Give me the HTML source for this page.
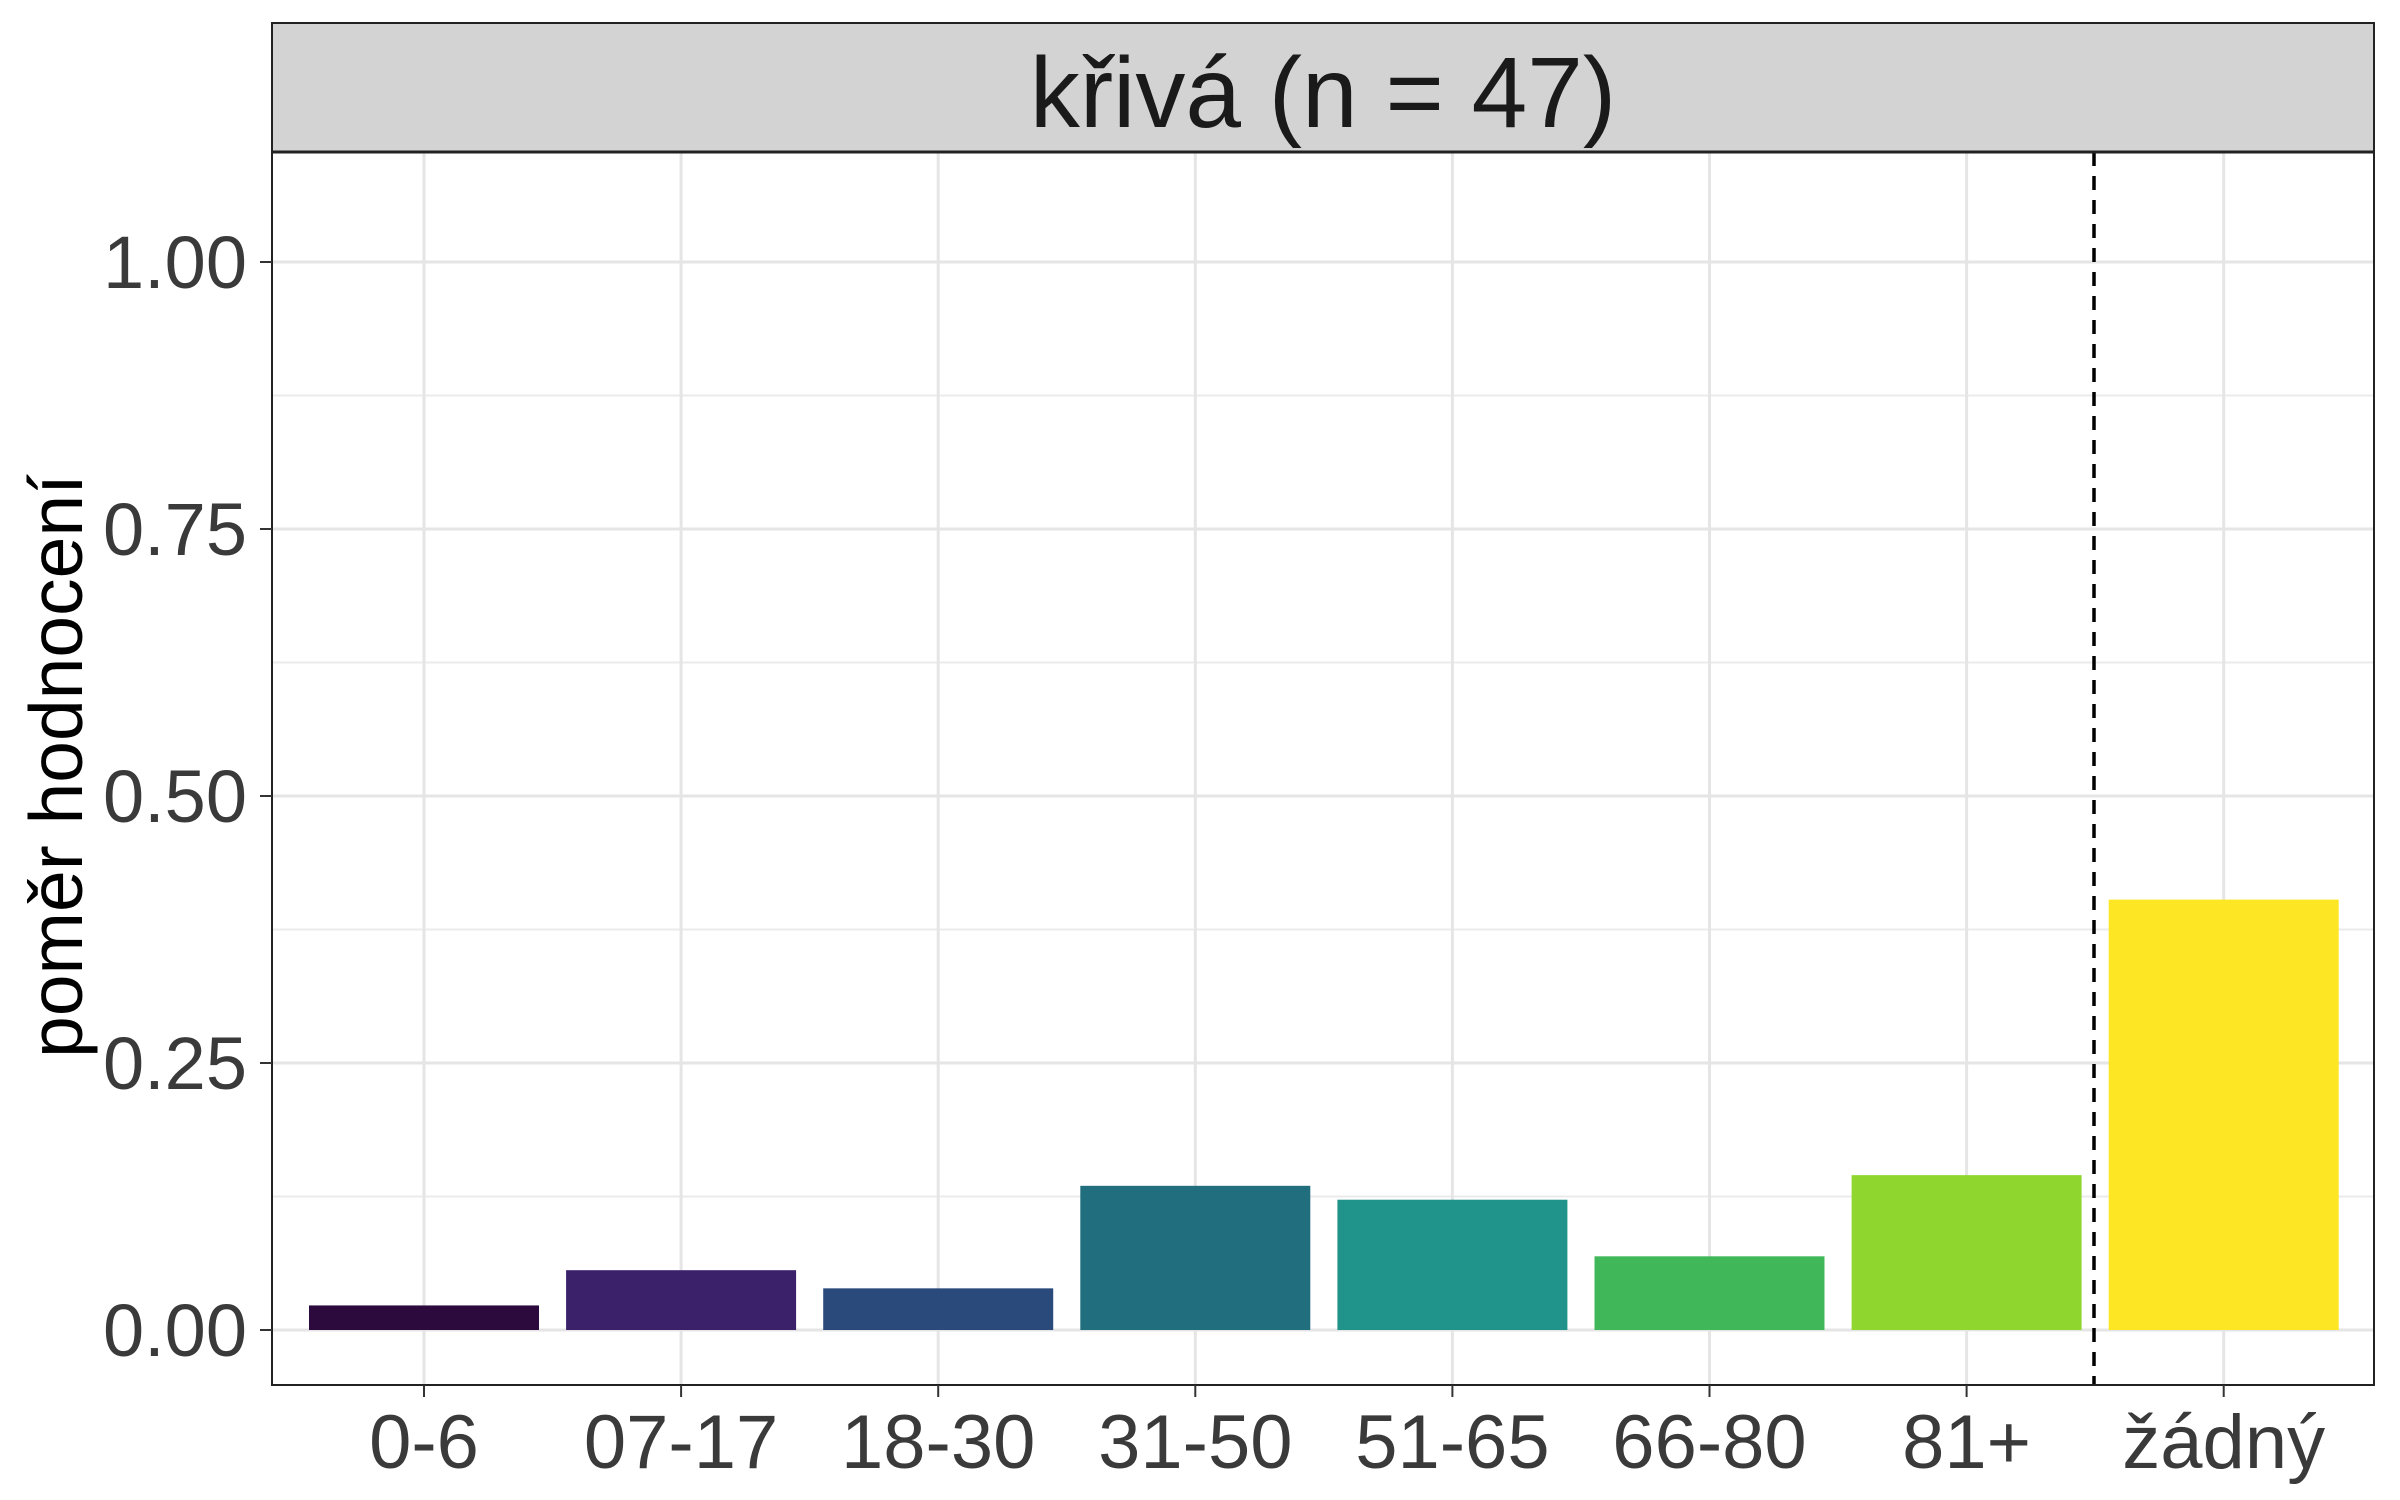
<!DOCTYPE html>
<html><head><meta charset="utf-8"><style>body{margin:0;background:#fff}svg{display:block}</style></head>
<body>
<svg id="chart" width="2400" height="1500" xmlns="http://www.w3.org/2000/svg" font-family="Liberation Sans, sans-serif">
<rect width="2400" height="1500" fill="#fff"/>
<g id="grid"></g>
<g id="bars"></g>
<line x1="2094" x2="2094" y1="152" y2="1385" stroke="#000" stroke-width="3.5" stroke-dasharray="14,10"/>
<rect x="272" y="23" width="2102" height="1362" fill="none" stroke="#222" stroke-width="2"/>
<rect x="272" y="23" width="2102" height="129" fill="#d3d3d3" stroke="#222" stroke-width="2"/>
<line x1="272" x2="2374" y1="152" y2="152" stroke="#222" stroke-width="3"/>
<text x="1323" y="127" font-size="100" text-anchor="middle" fill="#1a1a1a">křivá (n = 47)</text>
<text transform="translate(82,766) rotate(-90)" font-size="75" text-anchor="middle" fill="#000">poměr hodnocení</text>
<g id="axes"></g>
</svg>
<script>
const categories=["0-6","07-17","18-30","31-50","51-65","66-80","81+","žádný"];
const values=[0.023,0.056,0.039,0.135,0.122,0.069,0.145,0.403];
const colors=["#2d0a3e","#3a216a","#2a4a7c","#216e7e","#20938a","#40b85a","#8fd62f","#fde725"];
const yTicks=[0,0.25,0.5,0.75,1];
const yTickLabels=["0.00","0.25","0.50","0.75","1.00"];
const NS="http://www.w3.org/2000/svg";
const y=v=>1330-v*1068;
const x=i=>424+i*257.1;
const bw=230;
function mk(t,a,p){const e=document.createElementNS(NS,t);for(const k in a)e.setAttribute(k,a[k]);p.appendChild(e);return e;}
const grid=document.getElementById('grid'),bars=document.getElementById('bars'),axes=document.getElementById('axes');
for(let i=0;i<yTicks.length-1;i++){const v=(yTicks[i]+yTicks[i+1])/2;
const l=mk('line',{x1:272,x2:2374,y1:y(v),y2:y(v),stroke:'#ebebeb','stroke-width':2},grid);

}
yTicks.forEach((v,i)=>{
const l=mk('line',{x1:272,x2:2374,y1:y(v),y2:y(v),stroke:'#e5e5e5','stroke-width':3},grid);


const tk=mk('line',{x1:260,x2:272,y1:y(v),y2:y(v),stroke:'#333','stroke-width':2},axes);


const t=mk('text',{x:247,y:y(v)+26,'font-size':74,'text-anchor':'end',fill:'#3a3a3a'},axes);
t.textContent=yTickLabels[i];

});
categories.forEach((c,i)=>{
const l=mk('line',{x1:x(i),x2:x(i),y1:152,y2:1385,stroke:'#e5e5e5','stroke-width':3},grid);


const r=mk('rect',{x:x(i)-bw/2,y:y(values[i]),width:bw,height:y(0)-y(values[i]),fill:colors[i]},bars);


const tk=mk('line',{x1:x(i),x2:x(i),y1:1385,y2:1397,stroke:'#333','stroke-width':2},axes);


const t=mk('text',{x:x(i),y:1468,'font-size':76,'text-anchor':'middle',fill:'#3a3a3a'},axes);
t.textContent=c;

});
</script>
</body></html>
